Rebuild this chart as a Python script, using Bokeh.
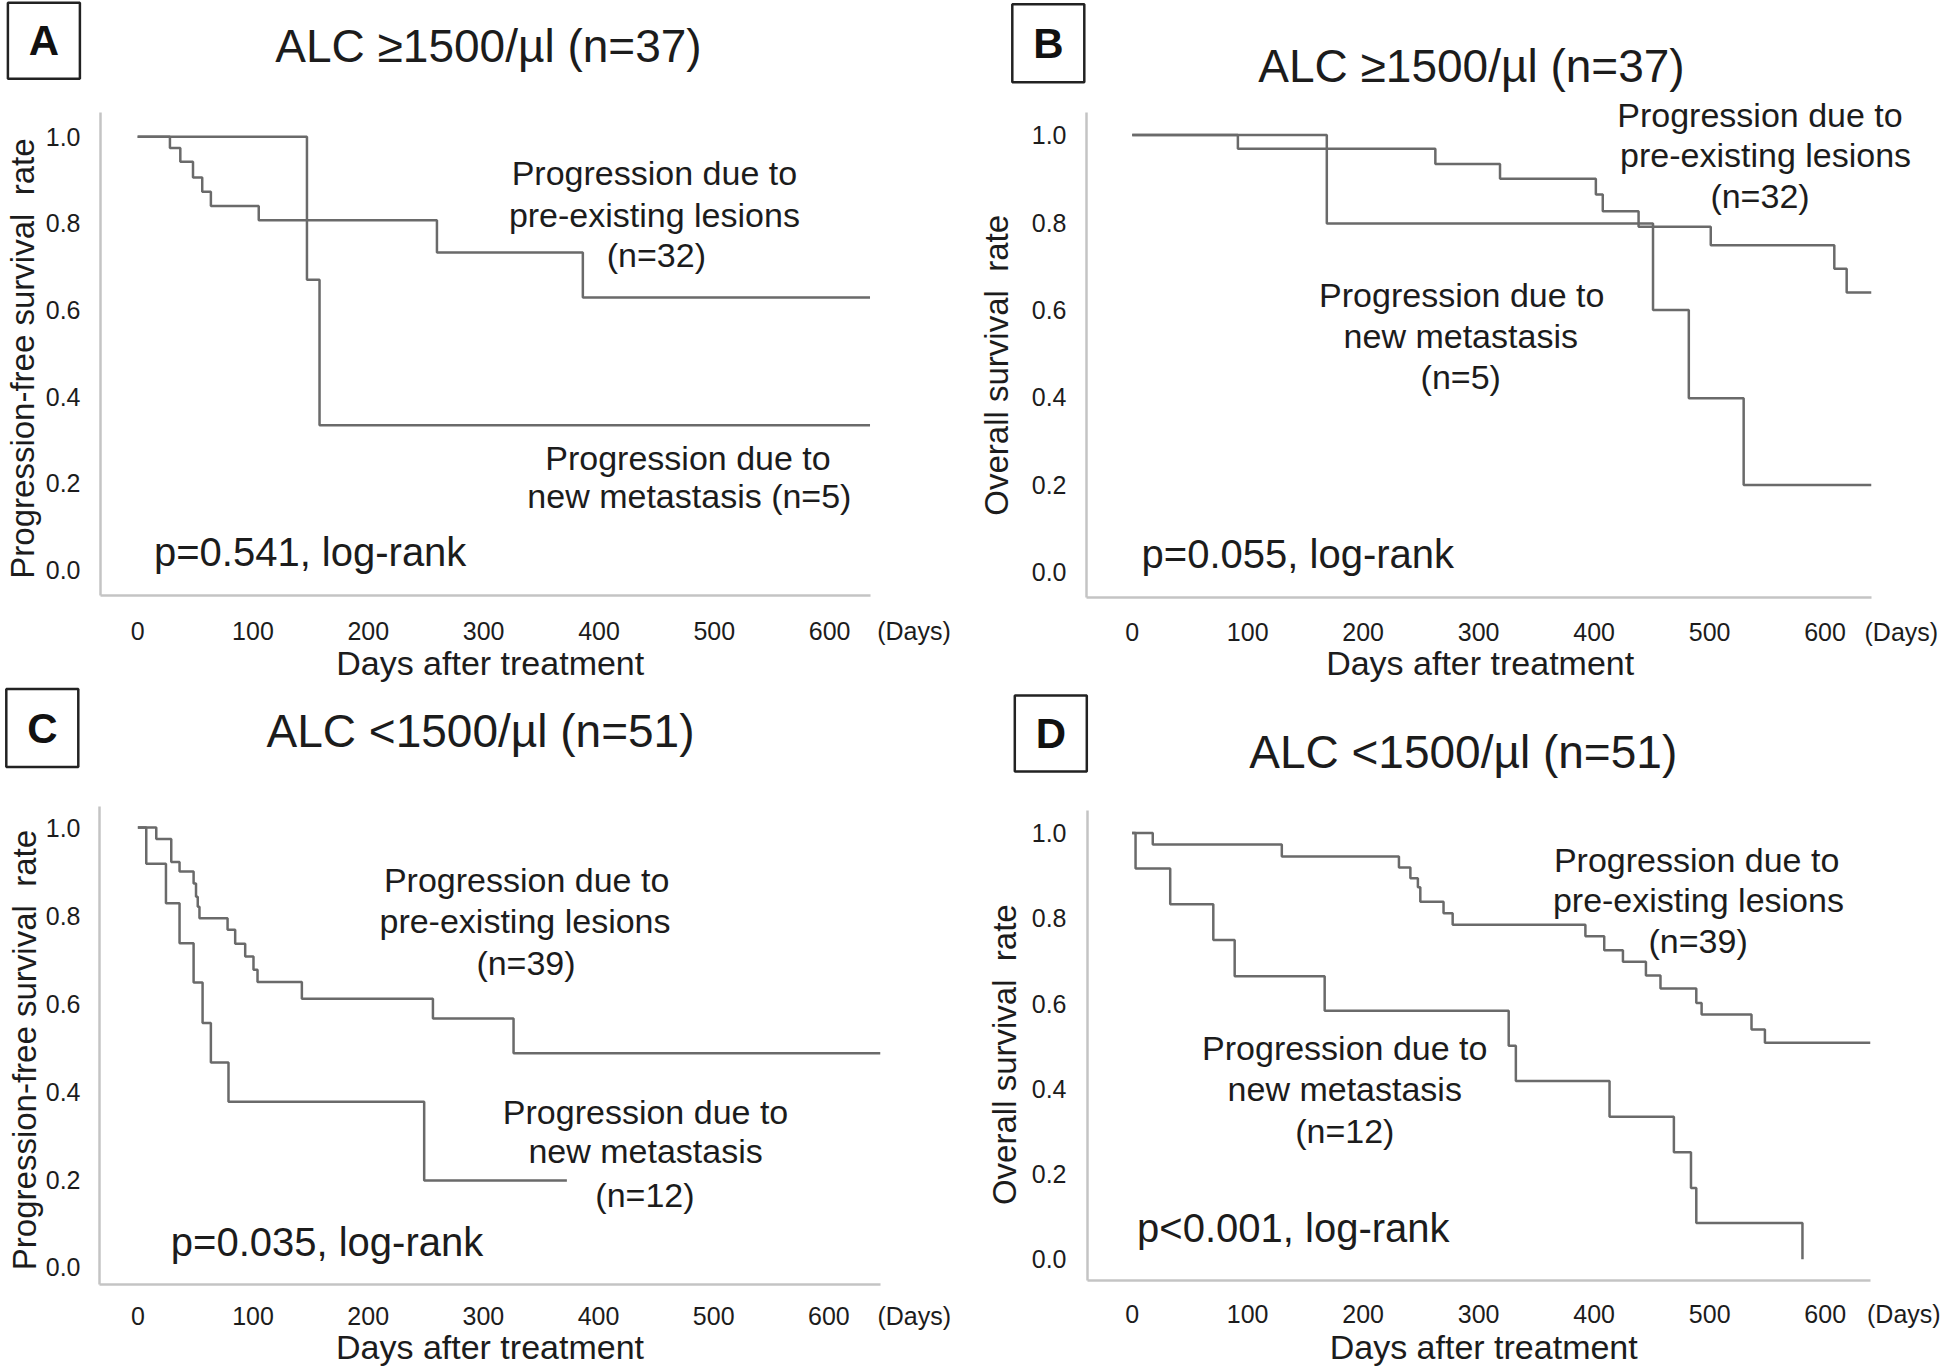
from bokeh.plotting import figure
from bokeh.layouts import column, row
from bokeh.models import Label, FixedTicker, NumeralTickFormatter, Range1d, AllLabels
from bokeh.embed import file_html
from bokeh.resources import INLINE

FONT = "Liberation Sans"
TXT = "#1c1c1c"
CURVE = "#6a6a6a"
AXIS = "#c4c4c4"
NBSP = "\u00a0"

# ---------------- data (days, survival rate) ----------------
x_ticks = [0, 100, 200, 300, 400, 500, 600]
y_ticks = [0.0, 0.2, 0.4, 0.6, 0.8, 1.0]

# A: ALC >=1500, progression-free survival
a_pre_days = [0, 28, 37, 48, 56, 63.5, 105, 259.5, 386, 635]
a_pre_surv = [1.0, 0.974, 0.942, 0.906, 0.873, 0.840, 0.807, 0.733, 0.629, 0.629]
a_new_days = [0, 146.8, 157.7, 635]
a_new_surv = [1.0, 0.670, 0.334, 0.334]

# B: ALC >=1500, overall survival
b_pre_days = [0, 91.5, 262.5, 318.5, 401.5, 407.5, 438.5, 501, 608, 618.7, 640]
b_pre_surv = [1.0, 0.969, 0.934, 0.900, 0.864, 0.826, 0.790, 0.748, 0.694, 0.640, 0.640]
b_new_days = [0, 168.5, 451, 482, 529.5, 640]
b_new_surv = [1.0, 0.798, 0.600, 0.398, 0.199, 0.199]

# C: ALC <1500, progression-free survival
c_pre_days = [0, 16, 29, 36.2, 48.4, 50.5, 52, 53.5, 77.9, 84.5, 93.2, 100.4, 103.9, 142.4, 256.2, 326.2, 644.8]
c_pre_surv = [1.0, 0.974, 0.922, 0.900, 0.873, 0.843, 0.820, 0.794, 0.768, 0.736, 0.707, 0.677, 0.649, 0.611, 0.566, 0.487, 0.487]
c_new_days = [0, 7.3, 24.4, 36.2, 48.4, 56.2, 63.4, 78.7, 248.6, 372.5]
c_new_surv = [1.0, 0.918, 0.828, 0.737, 0.648, 0.556, 0.466, 0.377, 0.198, 0.198]

# D: ALC <1500, overall survival
d_pre_days = [0, 17.9, 129.6, 231, 240.9, 247.4, 249.5, 269.6, 277.5, 392.4, 408.7, 424.9, 444.8, 457.4, 488.4, 493, 536.2, 547.8, 639.2]
d_pre_surv = [1.0, 0.973, 0.945, 0.919, 0.894, 0.873, 0.839, 0.812, 0.785, 0.758, 0.725, 0.698, 0.666, 0.635, 0.601, 0.574, 0.539, 0.508, 0.508]
d_new_days = [0, 3, 33, 70.3, 88.8, 166.7, 326, 332.2, 413.3, 469, 483.8, 488.4, 580.3]
d_new_surv = [1.0, 0.917, 0.833, 0.749, 0.664, 0.583, 0.501, 0.418, 0.334, 0.251, 0.167, 0.085, 0.0]

titles = {
    "A": "ALC \u22651500/\u00b5l (n=37)",
    "B": "ALC \u22651500/\u00b5l (n=37)",
    "C": "ALC <1500/\u00b5l (n=51)",
    "D": "ALC <1500/\u00b5l (n=51)",
}
ylabels = {"A": "Progression-free survival" + NBSP + " rate", "B": "Overall survival" + NBSP + " rate",
           "C": "Progression-free survival" + NBSP + " rate", "D": "Overall survival" + NBSP + " rate"}
xlabel = "Days after treatment"
pvals = {"A": "p=0.541, log-rank", "B": "p=0.055, log-rank",
         "C": "p=0.035, log-rank", "D": "p<0.001, log-rank"}
pre_n = {"A": "(n=32)", "B": "(n=32)", "C": "(n=39)", "D": "(n=39)"}
new_n = {"A": "(n=5)", "B": "(n=5)", "C": "(n=12)", "D": "(n=12)"}
unit_label = "(Days)"
curves = {
    "A": (a_pre_days, a_pre_surv, a_new_days, a_new_surv),
    "B": (b_pre_days, b_pre_surv, b_new_days, b_new_surv),
    "C": (c_pre_days, c_pre_surv, c_new_days, c_new_surv),
    "D": (d_pre_days, d_pre_surv, d_new_days, d_new_surv),
}

COLW = 972

# header strips (page pixels): panel letter box (cx, cy, w, h) and title centre
headers = {
    "A": dict(ox=0, oy=0, h=94, box=(43.4, 40.3, 72, 76), title=(488, 45.8)),
    "B": dict(ox=972, oy=0, h=94, box=(1047.8, 42.8, 72, 78), title=(1471, 65.3)),
    "C": dict(ox=0, oy=684, h=108, box=(41.8, 727.5, 72, 78), title=(480, 730)),
    "D": dict(ox=972, oy=684, h=108, box=(1050.3, 733, 72, 76), title=(1462.7, 751.6)),
}

# plot bodies (page pixel positions of the reference)
# xpad: (leading, trailing) no-break spaces that nudge the x-axis title along the axis
# ypad: trailing no-break spaces that nudge the y-axis title downwards
specs = {
    "A": dict(origin=(0, 94), h=590, frame=(100.4, 112.5, 870.0, 601.7), xr=(-32.2, 635.4), yr=(-0.0585, 1.0558),
              xb=None, yb=None, xpad=(1, 0), ypad=1,
              ystd=(20, 2), xstd=(21, -4), unit=(634, 13),
              pre=[(654, 174), (654, 216), (656, 257)],
              new=[(687.6, 462), (689, 500.5)],
              p=(153.8, 558)),
    "B": dict(origin=(972, 94), h=590, frame=(1085.5, 96.0, 1930.0, 601.7), xr=(-39.6, 691.3), yr=(-0.0583, 1.0884),
              xb=(-39.6, 640.3), yb=(-0.0583, 1.051), xpad=(0, 6), ypad=4,
              ystd=(20, 14), xstd=(20, -5), unit=(639, 9),
              pre=[(1759.4, 114.2), (1765, 154.8), (1759.4, 196.2)],
              new=[(1461, 296.5), (1460, 338), (1460, 379)],
              p=(1140.6, 558)),
    "C": dict(origin=(0, 792), h=576, frame=(99.2, 806.0, 880.4, 1286.6), xr=(-33.3, 644.8), yr=(-0.0387, 1.048),
              xb=None, yb=None, xpad=(0, 0), ypad=1,
              ystd=(19, 0), xstd=(17, -5), unit=(644, 10),
              pre=[(526.4, 880), (524.8, 921.6), (525.8, 963)],
              new=[(645.4, 1113.5), (645.4, 1152.7), (644.8, 1196.3)],
              p=(170.5, 1244.3)),
    "D": dict(origin=(972, 792), h=576, frame=(1086.7, 810.4, 1869.8, 1289.2), xr=(-38.6, 639.2), yr=(-0.050, 1.053),
              xb=None, yb=None, xpad=(1, 0), ypad=2,
              ystd=(21, 6), xstd=(19, -3), unit=(638, 10),
              pre=[(1695.9, 860.6), (1697.7, 902), (1697.4, 943.4)],
              new=[(1344, 1052.4), (1344, 1093.8), (1344, 1137.4)],
              p=(1136.3, 1236)),
}


def no_align(p):
    try:
        p.frame_align = False
    except Exception:
        pass


def make_header(key):
    s = headers[key]
    ox, oy, h = s["ox"], s["oy"], s["h"]
    p = figure(width=COLW, height=h, x_range=Range1d(ox, ox + COLW), y_range=Range1d(oy + h, oy),
               output_backend="svg", toolbar_location=None, x_axis_type=None, y_axis_type=None,
               min_border=0, min_border_left=0, min_border_right=0, min_border_top=0, min_border_bottom=0)
    no_align(p)
    p.outline_line_color = None
    p.xgrid.visible = False
    p.ygrid.visible = False
    cx, cy, bw, bh = s["box"]
    p.rect(x=[cx], y=[cy], width=[bw], height=[bh], fill_color=None,
           line_color="#222222", line_width=2.5)
    p.add_layout(Label(x=cx, y=cy, text=key, text_align="center", text_baseline="middle",
                       text_font=FONT, text_font_size="42px", text_font_style="bold",
                       text_color="#111111"))
    tx, ty = s["title"]
    p.add_layout(Label(x=tx, y=ty, text=titles[key], text_align="center", text_baseline="middle",
                       text_font=FONT, text_font_size="46px", text_color=TXT))
    return p


def make_panel(key):
    s = specs[key]
    ox, oy = s["origin"]
    H = s["h"]
    L, T, R, B = s["frame"]
    x0, x1 = s["xr"]
    y0, y1 = s["yr"]

    def d(px, py):
        return (x0 + (px - L) / (R - L) * (x1 - x0),
                y1 - (py - T) / (B - T) * (y1 - y0))

    p = figure(width=COLW, height=H, x_range=(x0, x1), y_range=(y0, y1),
               output_backend="svg", toolbar_location=None,
               min_border_left=int(round(L - ox)), min_border_top=int(round(T - oy)),
               min_border_right=int(round(ox + COLW - R)), min_border_bottom=int(round(oy + H - B)))
    no_align(p)
    p.outline_line_color = None
    p.xgrid.visible = False
    p.ygrid.visible = False

    for ax in (p.xaxis[0], p.yaxis[0]):
        ax.axis_line_color = AXIS
        ax.axis_line_width = 2.5
        ax.major_tick_out = 0
        ax.major_tick_in = 0
        ax.minor_tick_out = 0
        ax.minor_tick_in = 0
        ax.major_label_text_font = FONT
        ax.major_label_text_color = TXT
        ax.axis_label_text_font = FONT
        ax.axis_label_text_font_style = "normal"
        ax.axis_label_text_color = TXT
        ax.major_label_policy = AllLabels()

    # x axis: day ticks plus the "(Days)" unit note at the right end of the axis
    unit_pos, pad = s["unit"]
    xa = p.xaxis[0]
    xa.ticker = FixedTicker(ticks=x_ticks + [unit_pos])
    xa.major_label_overrides = {unit_pos: NBSP * pad + unit_label}
    xa.major_label_text_font_size = "25px"
    lead, trail = s["xpad"]
    xa.axis_label = NBSP * lead + xlabel + NBSP * trail
    xa.axis_label_text_font_size = "34px"
    xa.major_label_standoff = s["xstd"][0]
    xa.axis_label_standoff = s["xstd"][1]
    if s["xb"] is not None:
        xa.bounds = s["xb"]

    ya = p.yaxis[0]
    ya.ticker = FixedTicker(ticks=y_ticks)
    ya.formatter = NumeralTickFormatter(format="0.0")
    ya.major_label_text_font_size = "25px"
    ya.axis_label = ylabels[key] + NBSP * s["ypad"]
    ya.axis_label_text_font_size = "33px"
    ya.major_label_standoff = s["ystd"][0]
    ya.axis_label_standoff = s["ystd"][1]
    if s["yb"] is not None:
        ya.bounds = s["yb"]

    pre_d, pre_s, new_d, new_s = curves[key]
    p.step(pre_d, pre_s, mode="after", line_color=CURVE, line_width=2.5)
    p.step(new_d, new_s, mode="after", line_color=CURVE, line_width=2.5)

    def lab(text, px, py, size, align="center"):
        x, y = d(px, py)
        p.add_layout(Label(x=x, y=y, text=text, text_align=align, text_baseline="middle",
                           text_font=FONT, text_font_size=size, text_color=TXT))

    for t, (px, py) in zip(["Progression due to", "pre-existing lesions", pre_n[key]], s["pre"]):
        lab(t, px, py, "34px")
    if len(s["new"]) == 2:
        new_lines = ["Progression due to", "new metastasis " + new_n[key]]
    else:
        new_lines = ["Progression due to", "new metastasis", new_n[key]]
    for t, (px, py) in zip(new_lines, s["new"]):
        lab(t, px, py, "34px")

    lab(pvals[key], s["p"][0], s["p"][1], "40px", align="left")
    return p


layout = column(
    row(column(make_header("A"), make_panel("A"), spacing=0),
        column(make_header("B"), make_panel("B"), spacing=0), spacing=0),
    row(column(make_header("C"), make_panel("C"), spacing=0),
        column(make_header("D"), make_panel("D"), spacing=0), spacing=0),
    spacing=0)

open("out.html", "w").write(file_html(layout, INLINE))
